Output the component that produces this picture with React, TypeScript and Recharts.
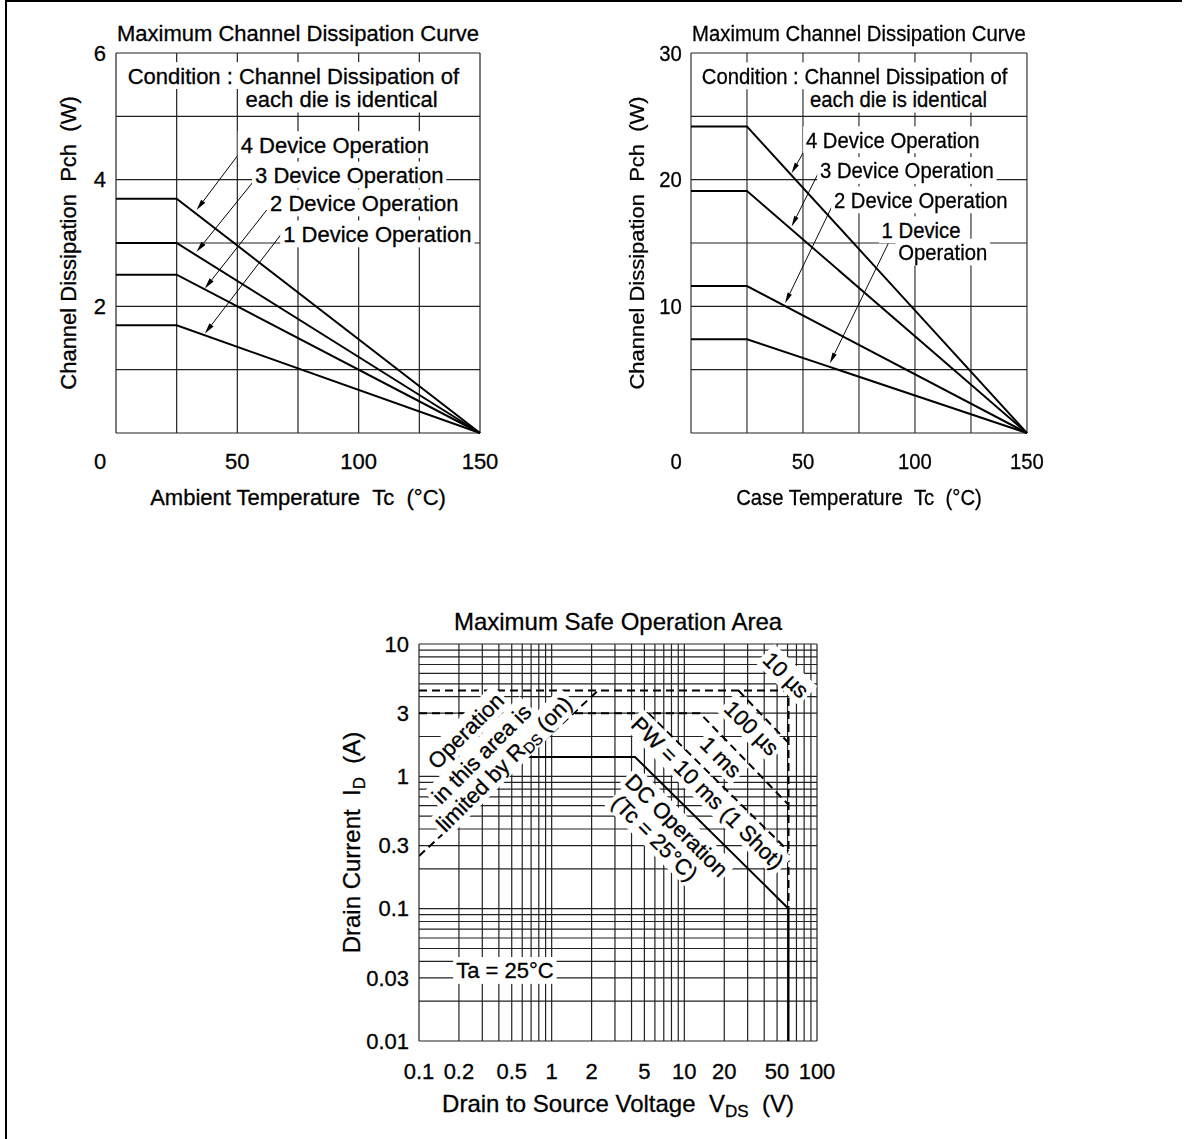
import React from "react";
import { LineChart, Line, XAxis, YAxis, CartesianGrid, ReferenceDot, ReferenceLine } from "recharts";

const FONT = '"Liberation Sans", Arial, Helvetica, sans-serif';
const NB = "\u00a0\u00a0";

// ---- Maximum Channel Dissipation (two charts) ----
const tempC = [0, 25, 150];
const ambient4Dev = [3.7, 3.7, 0];
const ambient3Dev = [3.0, 3.0, 0];
const ambient2Dev = [2.5, 2.5, 0];
const ambient1Dev = [1.7, 1.7, 0];
const case4Dev = [24.2, 24.2, 0];
const case3Dev = [19.1, 19.1, 0];
const case2Dev = [11.6, 11.6, 0];
const case1Dev = [7.4, 7.4, 0];

const tempGrid = [0, 25, 50, 75, 100, 125, 150];
const tempLabels = [0, 50, 100, 150];
const ambientGrid = [0, 1, 2, 3, 4, 5, 6];
const ambientLabels = [2, 4, 6];
const caseGrid = [0, 5, 10, 15, 20, 25, 30];
const caseLabels = [10, 20, 30];

// ---- Maximum Safe Operation Area ----
const dcVds = [0.65, 4.25, 61, 61];
const dcId = [1.4, 1.4, 0.1, 0.01];
const rdsVds = [0.1, 2.24];
const rdsId = [0.25, 4.45];
const pulseVds = [0.1, 61, 61];
const pulseId = [4.45, 4.45, 0.1];
const us100Vds = [25.6, 61];
const us100Id = [4.45, 1.79];
const ms1Vds = [0.1, 13.1, 61];
const ms1Id = [3, 3, 0.61];
const ms10Vds = [5.35, 61];
const ms10Id = [3, 0.272];

const vdsGrid = [0.1, 0.2, 0.3, 0.4, 0.5, 0.6, 0.7, 0.8, 0.9, 1, 2, 3, 4, 5, 6, 7, 8, 9, 10, 20, 30, 40, 50, 60, 70, 80, 90, 100];
const vdsLabels = [0.1, 0.2, 0.5, 1, 2, 5, 10, 20, 50, 100];
const idGrid = [0.01, 0.02, 0.03, 0.04, 0.05, 0.06, 0.07, 0.08, 0.09, 0.1, 0.2, 0.3, 0.4, 0.5, 0.6, 0.7, 0.8, 0.9, 1, 2, 3, 4, 5, 6, 7, 8, 9, 10];
const idLabels = [0.01, 0.03, 0.1, 0.3, 1, 3, 10];

const pts = (xs: number[], ys: number[]) => xs.map((vds, i) => ({ vds, id: ys[i] }));

type Part = { t: string; sub?: boolean };
type Note = { x: number; y: number; parts: Part[]; angle?: number; anchor?: "start" | "middle" };
type Arrow = { from: [number, number]; to: [number, number] };

const txt = (t: string): Part[] => [{ t }];

const ambientNotes: Note[] = [
  { x: 4.8, y: 5.64, parts: txt("Condition : Channel Dissipation of"), anchor: "start" },
  { x: 53.4, y: 5.27, parts: txt("each die is identical"), anchor: "start" },
  { x: 51.4, y: 4.55, parts: txt("4 Device Operation"), anchor: "start" },
  { x: 57.3, y: 4.07, parts: txt("3 Device Operation"), anchor: "start" },
  { x: 63.5, y: 3.63, parts: txt("2 Device Operation"), anchor: "start" },
  { x: 68.9, y: 3.14, parts: txt("1 Device Operation"), anchor: "start" },
];
const ambientArrows: Arrow[] = [
  { from: [51.3, 4.44], to: [33.2, 3.52] },
  { from: [56.6, 3.97], to: [33.2, 2.86] },
  { from: [62.1, 3.52], to: [36.6, 2.28] },
  { from: [68.3, 3.15], to: [36.6, 1.57] },
];

const caseNotes: Note[] = [
  { x: 4.8, y: 28.18, parts: txt("Condition : Channel Dissipation of"), anchor: "start" },
  { x: 53.1, y: 26.34, parts: txt("each die is identical"), anchor: "start" },
  { x: 51.3, y: 23.13, parts: txt("4 Device Operation"), anchor: "start" },
  { x: 57.6, y: 20.71, parts: txt("3 Device Operation"), anchor: "start" },
  { x: 63.8, y: 18.39, parts: txt("2 Device Operation"), anchor: "start" },
  { x: 85.1, y: 16.03, parts: txt("1 Device"), anchor: "start" },
  { x: 92.5, y: 14.27, parts: txt("Operation"), anchor: "start" },
];
const caseArrows: Arrow[] = [
  { from: [51.6, 22.6], to: [44.9, 20.5] },
  { from: [56.8, 20.5], to: [44.9, 16.3] },
  { from: [63.5, 18.1], to: [42, 10.24] },
  { from: [88.1, 14.97], to: [62, 5.5] },
];

const soaNotes: Note[] = [
  { x: 0.225, y: 2.21, parts: txt("Operation"), angle: -45 },
  { x: 0.295, y: 1.48, parts: txt("in this area is"), angle: -45 },
  { x: 0.436, y: 1.246, parts: [{ t: "limited by R" }, { t: "DS", sub: true }, { t: " (on)" }], angle: -45 },
  { x: 58.6, y: 5.84, parts: txt("10 \u00b5s"), angle: 45 },
  { x: 32.3, y: 2.32, parts: txt("100 \u00b5s"), angle: 45 },
  { x: 18.9, y: 1.4, parts: txt("1 ms"), angle: 45 },
  { x: 15.0, y: 0.75, parts: txt("PW = 10 ms (1 Shot)"), angle: 45 },
  { x: 8.77, y: 0.427, parts: txt("DC Operation"), angle: 45 },
  { x: 6.02, y: 0.343, parts: txt("(Tc = 25\u00b0C)"), angle: 45 },
  { x: 0.444, y: 0.034, parts: txt("Ta = 25\u00b0C") },
];

const has = (list: number[], v: number) => list.some((l) => Math.abs(l - v) < 1e-9);

let measureCtx: CanvasRenderingContext2D | null = null;
const textWidth = (t: string, size: number) => {
  if (!measureCtx) measureCtx = document.createElement("canvas").getContext("2d");
  if (!measureCtx) return t.length * size * 0.5;
  measureCtx.font = `${size}px "Liberation Sans", Arial, sans-serif`;
  return measureCtx.measureText(t).width;
};

const INK = { fill: "#000", stroke: "#000", strokeWidth: 0.3 };

const bottomTick = (labels: number[], fontSize: number, zeroShift = 0) => (p: any) => {
  const v = p.payload.value;
  if (!has(labels, v)) return <g />;
  return (
    <text x={p.x + (v === 0 ? zeroShift : 0)} y={p.y} dy="0.71em" textAnchor="middle" fontSize={fontSize} fontFamily={FONT} {...INK}>
      {String(v)}
    </text>
  );
};

const leftTick = (labels: number[], fontSize: number) => (p: any) => {
  const v = p.payload.value;
  if (!has(labels, v)) return <g />;
  return (
    <text x={p.x} y={p.y} dy="0.355em" textAnchor="end" fontSize={fontSize} fontFamily={FONT} {...INK}>
      {String(v)}
    </text>
  );
};

const centerLabel = (content: React.ReactNode, fontSize: number, angle = 0) => (p: any) => {
  const vb = p.viewBox || {};
  const cx = vb.x + vb.width / 2;
  const cy = vb.y + vb.height / 2;
  return (
    <text x={cx} y={cy} dy="0.355em" textAnchor="middle" fontSize={fontSize} fontFamily={FONT} {...INK}
      transform={angle ? `rotate(${angle} ${cx} ${cy})` : undefined}>
      {content}
    </text>
  );
};

const arrowShape = (p: any) => {
  const { x1, y1, x2, y2 } = p;
  const a = Math.atan2(y2 - y1, x2 - x1);
  const len = 11;
  const half = 2.6;
  const bx = x2 - len * Math.cos(a);
  const by = y2 - len * Math.sin(a);
  const ox = -Math.sin(a) * half;
  const oy = Math.cos(a) * half;
  return (
    <g>
      <line x1={x1} y1={y1} x2={bx} y2={by} stroke="#000" strokeWidth={1} />
      <polygon points={`${x2},${y2} ${bx + ox},${by + oy} ${bx - ox},${by - oy}`} fill="#000" />
    </g>
  );
};

// annotation text with a white box behind it, placed at a data point
const renderNote = (n: Note, fontSize: number, key: string) => {
  const subSize = Math.round(fontSize * 0.7);
  const w = n.parts.reduce((s, part) => s + textWidth(part.t, part.sub ? subSize : fontSize), 0);
  const x0 = n.anchor === "start" ? 0 : -w / 2;
  return (
    <ReferenceDot
      key={key}
      x={n.x}
      y={n.y}
      r={0}
      ifOverflow="visible"
      shape={(p: any) => (
        <g transform={`translate(${p.cx} ${p.cy}) rotate(${n.angle ?? 0})`}>
          <rect x={x0 - 3} y={-fontSize * 0.62} width={w + 6} height={fontSize * 1.22} fill="#fff" />
          <text x={x0} y={0} dy="0.355em" fontSize={fontSize} fontFamily={FONT} {...INK}>
            {n.parts.map((part, i) => {
              const prevSub = i > 0 && n.parts[i - 1].sub;
              const dy = part.sub ? 4 : prevSub ? -4 : 0;
              return (
                <tspan key={i} fontSize={part.sub ? subSize : undefined} dy={dy || undefined}>
                  {part.t.replace(/ /g, "\u00a0")}
                </tspan>
              );
            })}
          </text>
        </g>
      )}
    />
  );
};

interface DissipationProps {
  series: number[][];
  yGrid: number[];
  yLabels: number[];
  notes: Note[];
  arrows: Arrow[];
  xTitle: string;
  yAxisWidth: number;
  marginLeft: number;
}

const DissipationChart = ({ series, yGrid, yLabels, notes, arrows, xTitle, yAxisWidth, marginLeft }: DissipationProps) => {
  const rows = tempC.map((t, i) => ({ t, d4: series[0][i], d3: series[1][i], d2: series[2][i], d1: series[3][i] }));
  const yMax = yGrid[yGrid.length - 1];
  return (
    <LineChart width={marginLeft + yAxisWidth + 364 + 80} height={580} data={rows}
      margin={{ top: 13, right: 80, bottom: 19, left: marginLeft }}>
      <CartesianGrid stroke="#222" strokeWidth={1.2} />
      <XAxis xAxisId="title" orientation="top" dataKey="t" type="number" domain={[0, 150]} height={40}
        tick={false} tickLine={false} axisLine={false}
        label={centerLabel("Maximum Channel Dissipation Curve", 22)} />
      <XAxis dataKey="t" type="number" domain={[0, 150]} ticks={tempGrid} interval={0} height={128}
        tickLine={false} axisLine={false} tickSize={0} tickMargin={20}
        tick={bottomTick(tempLabels, 22, -16)} label={centerLabel(xTitle, 22)} />
      <YAxis type="number" domain={[0, yMax]} ticks={yGrid} interval={0} width={yAxisWidth}
        tickLine={false} axisLine={false} tickSize={0} tickMargin={10}
        tick={leftTick(yLabels, 22)}
        label={centerLabel(`Channel Dissipation${NB}Pch${NB}(W)`, 22, -90)} />
      <Line dataKey="d4" stroke="#000" strokeWidth={2} dot={false} activeDot={false} isAnimationActive={false} />
      <Line dataKey="d3" stroke="#000" strokeWidth={2} dot={false} activeDot={false} isAnimationActive={false} />
      <Line dataKey="d2" stroke="#000" strokeWidth={2} dot={false} activeDot={false} isAnimationActive={false} />
      <Line dataKey="d1" stroke="#000" strokeWidth={2} dot={false} activeDot={false} isAnimationActive={false} />
      {notes.map((n, i) => renderNote(n, 22, `n${i}`))}
      {arrows.map((a, i) => (
        <ReferenceLine key={`a${i}`} segment={[{ x: a.from[0], y: a.from[1] }, { x: a.to[0], y: a.to[1] }]}
          ifOverflow="visible" shape={arrowShape} />
      ))}
    </LineChart>
  );
};

const dashed = { stroke: "#000", strokeWidth: 2, strokeDasharray: "8 5", dot: false, activeDot: false, isAnimationActive: false } as const;

const SoaChart = () => (
  <LineChart width={600} height={600} margin={{ top: 9, right: 63, bottom: 25, left: 4 }}>
    <CartesianGrid stroke="#222" strokeWidth={1.2} />
    <XAxis xAxisId="title" orientation="top" dataKey="vds" type="number" scale="log" domain={[0.1, 100]}
      allowDataOverflow height={45} tick={false} tickLine={false} axisLine={false}
      label={centerLabel("Maximum Safe Operation Area", 24)} />
    <XAxis dataKey="vds" type="number" scale="log" domain={[0.1, 100]} allowDataOverflow ticks={vdsGrid}
      interval={0} height={124} tickLine={false} axisLine={false} tickSize={0} tickMargin={22}
      tick={bottomTick(vdsLabels, 22)}
      label={centerLabel(<>Drain to Source Voltage{NB}V<tspan fontSize={17} dy={5}>DS</tspan><tspan dy={-5}>{NB}(V)</tspan></>, 24)} />
    <YAxis type="number" scale="log" domain={[0.01, 10]} allowDataOverflow ticks={idGrid} interval={0}
      width={135} tickLine={false} axisLine={false} tickSize={0} tickMargin={10}
      tick={leftTick(idLabels, 22)}
      label={centerLabel(<>Drain Current{NB}I<tspan fontSize={17} dy={5}>D</tspan><tspan dy={-5}>{NB}(A)</tspan></>, 24, -90)} />
    {soaNotes.map((n, i) => renderNote(n, 22, `s${i}`))}
    <Line data={pts(pulseVds, pulseId)} dataKey="id" {...dashed} />
    <Line data={pts(rdsVds, rdsId)} dataKey="id" {...dashed} />
    <Line data={pts(us100Vds, us100Id)} dataKey="id" {...dashed} />
    <Line data={pts(ms1Vds, ms1Id)} dataKey="id" {...dashed} />
    <Line data={pts(ms10Vds, ms10Id)} dataKey="id" {...dashed} />
    <Line data={pts(dcVds, dcId)} dataKey="id" stroke="#000" strokeWidth={2} dot={false} activeDot={false} isAnimationActive={false} />
  </LineChart>
);

export default function App() {
  return (
    <div style={{ position: "absolute", left: 0, top: 0, width: 1187, height: 1139, overflow: "hidden", background: "#fff" }}>
      <div style={{ position: "absolute", left: 5, top: 0, width: 1177, height: 1139, borderLeft: "2px solid #000", borderTop: "2px solid #000", boxSizing: "border-box" }} />
      <div style={{ position: "absolute", left: 0, top: 0 }}>
        <DissipationChart series={[ambient4Dev, ambient3Dev, ambient2Dev, ambient1Dev]} yGrid={ambientGrid} yLabels={ambientLabels}
          notes={ambientNotes} arrows={ambientArrows} xTitle={`Ambient Temperature${NB}Tc${NB}(\u00b0C)`} yAxisWidth={96} marginLeft={20} />
      </div>
      <div style={{ position: "absolute", left: 583, top: 0, transform: "scaleX(0.923)", transformOrigin: "0 0" }}>
        <DissipationChart series={[case4Dev, case3Dev, case2Dev, case1Dev]} yGrid={caseGrid} yLabels={caseLabels}
          notes={caseNotes} arrows={caseArrows} xTitle={`Case Temperature${NB}Tc${NB}(\u00b0C)`} yAxisWidth={117} marginLeft={0} />
      </div>
      <div style={{ position: "absolute", left: 280, top: 590 }}>
        <SoaChart />
      </div>
    </div>
  );
}
